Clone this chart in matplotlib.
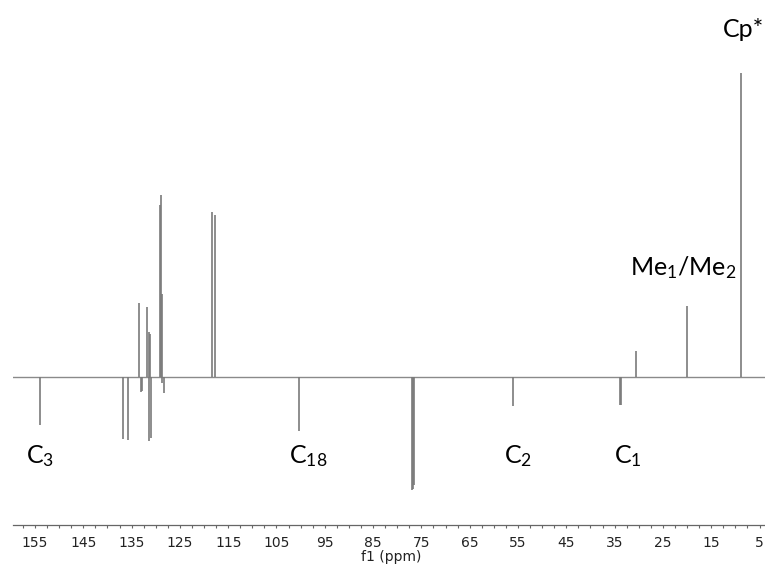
import numpy as np
import matplotlib
matplotlib.use("Agg")
import matplotlib.pyplot as plt
from matplotlib.ticker import MultipleLocator, FixedLocator

plt.rcParams['mathtext.fontset'] = 'custom'
plt.rcParams['mathtext.rm'] = 'Lato'
plt.rcParams['mathtext.it'] = 'Lato:italic'

# peak positions (ppm) and signed intensities (arbitrary units, up = positive)
shifts = [154.0, 136.8, 135.7, 133.5, 133.0, 132.8, 131.9, 131.4, 131.3, 131.1, 131.0,
          129.1, 129.0, 128.8, 128.6, 128.2, 118.4, 117.8, 100.3,
          76.9, 76.7, 76.5, 56.0, 33.9, 33.7, 30.5, 20.1, 8.9]
heights = [-48, -62, -63, 74, -15, -14, 70, -64, 45, 43, -61,
           172, 182, -6, 83, -16, 165, 162, -54,
           -113, -112, -108, -29, -28, -28, 26, 71, 304]

# assignments: text, ppm, height
labels = [r'C$_{3}$', r'C$_{18}$', r'C$_{2}$', r'C$_{1}$', r'Me$_{1}$/Me$_{2}$', 'Cp*']
label_ppm = [154.0, 98.5, 55.0, 32.2, 20.8, 8.4]
label_y = [-86, -86, -86, -86, 102, 340]

major_ticks = [155, 145, 135, 125, 115, 105, 95, 85, 75, 65, 55, 45, 35, 25, 15, 5]

fig = plt.figure(figsize=(7.65, 5.65), dpi=100)
W, H = 765, 565
ax = fig.add_axes([13 / W, (H - 524.5) / H, (770 - 13) / W, (524.5 - 20) / H])

ax.axhline(0, color='#8a8a8a', lw=1.0)
ax.vlines(shifts, 0, heights, color='#7a7a7a', lw=1.2)

for t, x, y in zip(labels, label_ppm, label_y):
    ax.text(x, y, t, ha='center', va='baseline', fontsize=18,
            family='Lato', color='black')

ax.set_xlim(159.55, 2.83)
ax.set_ylim(-147.5, 357)

for s in ['top', 'left', 'right']:
    ax.spines[s].set_visible(False)
ax.spines['bottom'].set_color('#666666')
ax.spines['bottom'].set_linewidth(0.9)
ax.set_yticks([])

ax.xaxis.set_major_locator(FixedLocator(major_ticks))
ax.xaxis.set_minor_locator(MultipleLocator(2.5))
ax.tick_params(axis='x', which='major', length=2.5, width=0.8, color='#666666',
               labelsize=10, labelcolor='#222222', pad=6)
ax.tick_params(axis='x', which='minor', length=2, width=0.8, color='#666666')
ax.set_xlabel('f1 (ppm)', fontsize=10, color='#222222', labelpad=0)

fig.savefig('out.png', dpi=100)
